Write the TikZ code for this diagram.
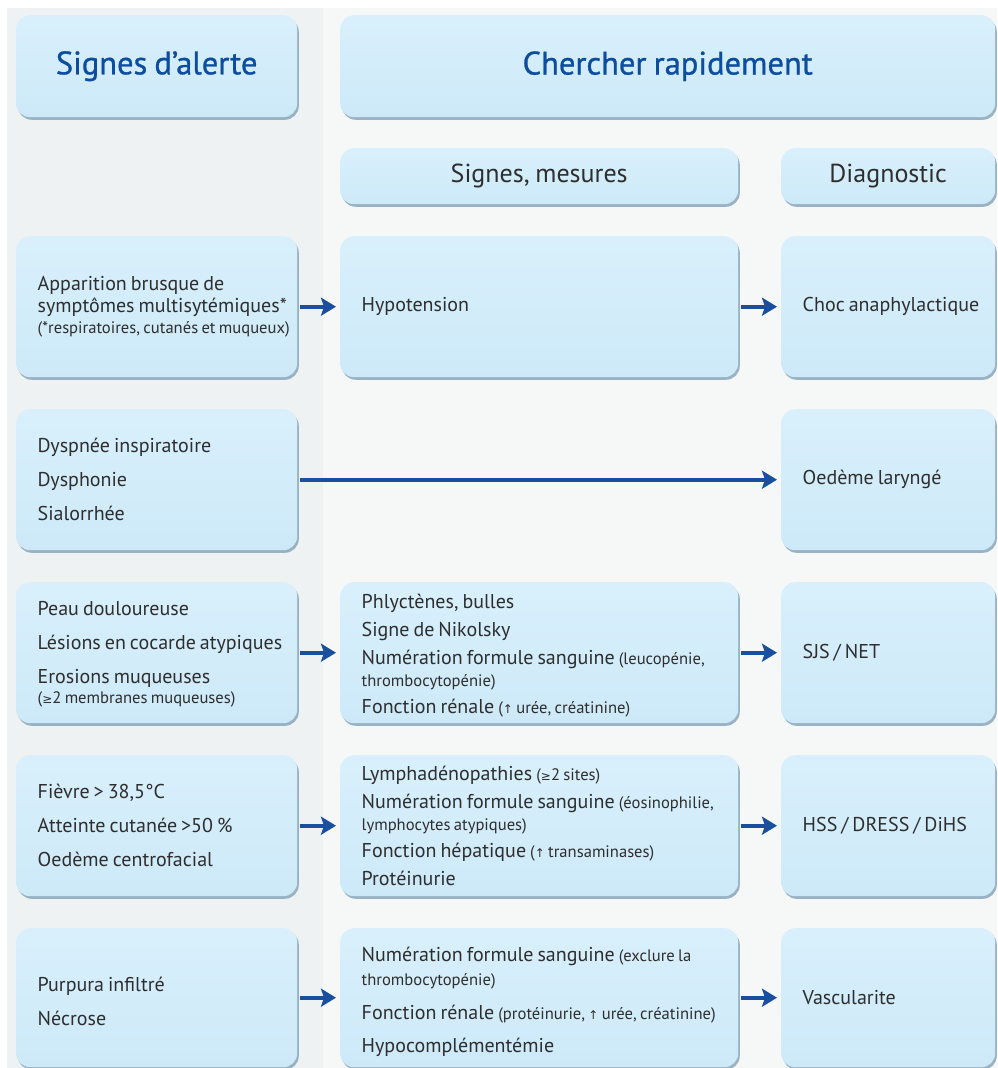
\documentclass[tikz,border=0pt]{standalone}
\usepackage{fontspec}
\setmainfont{PT Sans}
\newfontfamily\headf[FakeBold=0.9]{PT Sans}
\newfontfamily\symf{DejaVu Sans}
\usetikzlibrary{arrows.meta,shadows}
\definecolor{boxfill}{HTML}{CDE9F8}
\definecolor{boxtop}{HTML}{D9F0FC}
\definecolor{shadowc}{HTML}{7A9DB3}
\definecolor{headblue}{HTML}{0D4DA0}
\definecolor{bodytext}{HTML}{2E2E2E}
\definecolor{arrowblue}{HTML}{1A4E9E}
\definecolor{leftbg}{HTML}{EEF2F3}
\definecolor{rightbg}{HTML}{F6F8F8}
\newcommand\bodyf{\fontsize{20}{22}\selectfont}
\newcommand\smallf{\fontsize{16.6}{18}\selectfont\spaceskip=.2em plus .1em\relax}
\newcommand\myup{{\symf\fontsize{12}{13}\selectfont ↑}}
\newcommand\mygeq{{\symf\fontsize{12}{13}\selectfont ≥}}
\tikzset{
  basebox/.style={rounded corners=14pt, top color=boxtop, bottom color=boxfill, draw=none,
    anchor=north west, inner xsep=0pt, inner ysep=0pt, text=bodytext,
    drop shadow={shadow xshift=1.6pt, shadow yshift=-2.6pt, fill=shadowc, opacity=0.75}},
  box/.style={basebox, align=left, font=\bodyf,
    execute at begin node={\leftskip=21.5pt\spaceskip=.2em plus .1em\relax}},
  bw/.style={minimum width=#1pt, text width=#1pt},
  headbox/.style={basebox, align=center, text=headblue, font=\headf\fontsize{32.5}{38}\selectfont,
    execute at begin node={\spaceskip=.22em\relax}},
  subbox/.style={basebox, align=center, font=\fontsize{26}{30}\selectfont,
    execute at begin node={\spaceskip=.22em\relax}},
  flow/.style={draw=arrowblue, line width=3.8pt, -{Stealth[length=15pt,width=18pt,inset=3pt]}, shorten <=3pt, shorten >=4pt},
}
\begin{document}
\begin{tikzpicture}[x=1pt,y=-1pt]
\useasboundingbox (0,0) rectangle (997,1068);
\fill[white] (0,0) rectangle (997,1068);
\fill[leftbg] (7,8) rectangle (323,1068);
\fill[rightbg] (323,8) rectangle (997,1068);
% headers
\node[headbox, bw=281, minimum height=102pt] (H1) at (16,15) {Signes d’alerte};
\node[headbox, bw=655, minimum height=102pt] (H2) at (340,15) {Chercher rapidement};
\node[subbox, bw=398, minimum height=56pt] (S1) at (340,148) {Signes, mesures};
\node[subbox, bw=214, minimum height=56pt] (S2) at (781,148) {Diagnostic};
% row 1
\node[box, bw=281, minimum height=141pt] (L1) at (16,236)
  {Apparition brusque de\\symptômes multisytémiques*\\[-1pt]{\smallf (*respiratoires, cutanés et muqueux)}};
\node[box, bw=398, minimum height=141pt] (M1) at (340,236) {Hypotension};
\node[box, bw=214, minimum height=141pt] (R1) at (781,236) {Choc anaphylactique};
% row 2
\node[box, bw=281, minimum height=141pt] (L2) at (16,409)
  {Dyspnée inspiratoire\\[12pt]Dysphonie\\[12pt]Sialorrhée};
\node[box, bw=214, minimum height=141pt] (R2) at (781,409) {Oedème laryngé};
% row 3
\node[box, bw=281, minimum height=141pt] (L3) at (16,582)
  {\rule{0pt}{18pt}Peau douloureuse\\[12pt]Lésions en cocarde atypiques\\[12pt]Erosions muqueuses\\[-2pt]{\smallf (\mygeq2 membranes muqueuses)}};
\node[box, bw=398, minimum height=141pt] (M3) at (340,582)
  {\rule{0pt}{20pt}Phlyctènes, bulles\\[6pt]Signe de Nikolsky\\[6pt]Numération formule sanguine {\smallf (leucopénie,}\\{\smallf thrombocytopénie)}\\[5pt]Fonction rénale {\smallf (\myup\ urée, créatinine)}};
\node[box, bw=214, minimum height=141pt] (R3) at (781,582) {SJS / NET};
% row 4
\node[box, bw=281, minimum height=141pt] (L4) at (16,755)
  {Fièvre > 38,5°C\\[12pt]Atteinte cutanée >50~\%\\[12pt]Oedème centrofacial};
\node[box, bw=398, minimum height=141pt] (M4) at (340,755)
  {Lymphadénopathies {\smallf (\mygeq2 sites)}\\[6pt]Numération formule sanguine {\smallf (éosinophilie,}\\{\smallf lymphocytes atypiques)}\\[5pt]Fonction hépatique {\smallf (\myup\ transaminases)}\\[6pt]Protéinurie};
\node[box, bw=214, minimum height=141pt] (R4) at (781,755) {HSS / DRESS / DiHS};
% row 5
\node[box, bw=281, minimum height=139pt] (L5) at (16,928)
  {\rule{0pt}{21pt}Purpura infiltré\\[12pt]Nécrose};
\node[box, bw=398, minimum height=139pt] (M5) at (340,928)
  {\rule{0pt}{23pt}Numération formule sanguine {\smallf (exclure la}\\[2pt]{\smallf thrombocytopénie)}\\[12pt]Fonction rénale {\smallf (protéinurie, \myup\ urée, créatinine)}\\[11pt]Hypocomplémentémie};
\node[box, bw=214, minimum height=139pt] (R5) at (781,928) {Vascularite};
% connectors
\draw[flow] (L1.east) -- (M1.west);
\draw[flow] (M1.east) -- (R1.west);
\draw[flow] (L2.east) -- (R2.west);
\draw[flow] (L3.east) -- (M3.west);
\draw[flow] (M3.east) -- (R3.west);
\draw[flow] (L4.east) -- (M4.west);
\draw[flow] (M4.east) -- (R4.west);
\draw[flow] (L5.east) -- (M5.west);
\draw[flow] (M5.east) -- (R5.west);
\end{tikzpicture}
\end{document}
